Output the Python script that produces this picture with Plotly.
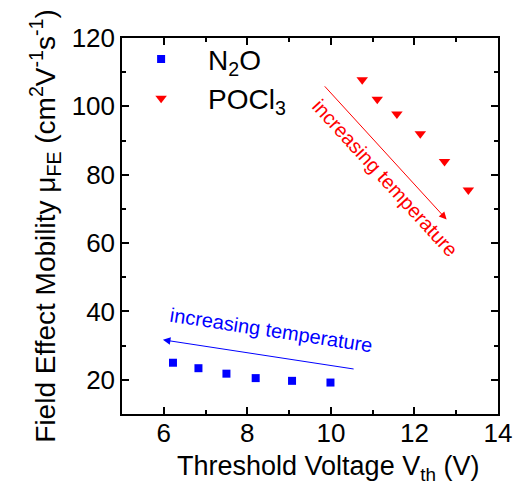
import plotly.graph_objects as go

# Data
n2o_vth = [6.22, 6.83, 7.50, 8.20, 9.07, 9.99]
n2o_mu = [25.0, 23.4, 21.8, 20.5, 19.7, 19.2]

pocl3_vth = [10.75, 11.11, 11.58, 12.14, 12.72, 13.29]
pocl3_mu = [107.8, 102.1, 97.8, 92.0, 83.9, 75.5]

x_ticks = [6, 8, 10, 12, 14]
y_ticks = [20, 40, 60, 80, 100, 120]

FONT = "Liberation Sans, Arial, sans-serif"
BLUE = "#0000FF"
RED = "#FF0000"

fig = go.Figure()
fig.add_trace(go.Scatter(
    x=n2o_vth, y=n2o_mu, mode="markers", name="N<sub>2</sub>O",
    marker=dict(symbol="square", size=8, color=BLUE),
))
fig.add_trace(go.Scatter(
    x=pocl3_vth, y=pocl3_mu, mode="markers", name="POCl<sub>3</sub>",
    marker=dict(symbol="triangle-down", size=10, color=RED),
))

axis_common = dict(
    showline=True, linecolor="black", linewidth=1.5, mirror="ticks",
    ticks="inside", ticklen=7, tickwidth=1.5, tickcolor="black",
    showgrid=False, zeroline=False, automargin=False,
    tickfont=dict(family=FONT, size=26, color="black"),
)

fig.update_xaxes(
    range=[5, 14], tickvals=x_ticks, ticklabelstandoff=-5,
    minor=dict(ticks="inside", ticklen=4, dtick=1, tickcolor="black", tickwidth=1.5),
    **axis_common,
)
fig.update_yaxes(
    range=[10, 120], tickvals=y_ticks,
    minor=dict(ticks="inside", ticklen=4, dtick=10, tickcolor="black", tickwidth=1.5),
    title=dict(text="Field Effect Mobility \u03bc<sub>FE</sub> (cm<sup>2</sup>V<sup>-1</sup>s<sup>-1</sup>)",
               font=dict(family=FONT, size=28, color="black"), standoff=8),
    **axis_common,
)

# X axis title (placed as annotation to match reference horizontal offset)
fig.add_annotation(x=0.548, y=-0.143, xref="paper", yref="paper",
                   text="Threshold Voltage V<sub>th</sub> (V)", showarrow=False,
                   xanchor="center", yanchor="middle",
                   font=dict(family=FONT, size=27, color="black"))

# Arrows
fig.add_annotation(x=12.77, y=66.9, ax=9.82, ay=106.3, xref="x", yref="y",
                   axref="x", ayref="y", text="", showarrow=True,
                   arrowhead=2, arrowsize=1.5, arrowwidth=1, arrowcolor=RED, standoff=0)
fig.add_annotation(x=5.98, y=31.7, ax=10.58, ay=23.1, xref="x", yref="y",
                   axref="x", ayref="y", text="", showarrow=True,
                   arrowhead=2, arrowsize=1.5, arrowwidth=1, arrowcolor=BLUE, standoff=0)
# Arrow labels
fig.add_annotation(x=11.30, y=79.1, xref="x", yref="y", text="increasing temperature",
                   showarrow=False, textangle=47.6,
                   font=dict(family=FONT, size=20, color=RED))
fig.add_annotation(x=8.57, y=34.6, xref="x", yref="y", text="increasing temperature",
                   showarrow=False, textangle=8.7,
                   font=dict(family=FONT, size=20, color=BLUE))

fig.update_layout(
    width=518, height=484,
    margin=dict(l=122, r=20, t=38, b=70, autoexpand=False),
    paper_bgcolor="white", plot_bgcolor="white",
    font=dict(family=FONT, size=26, color="black"),
    legend=dict(x=-0.021, y=1.01, xanchor="left", yanchor="top",
                bgcolor="rgba(0,0,0,0)", font=dict(family=FONT, size=28, color="black"),
                itemwidth=84),
)

fig.write_html("out.html")
